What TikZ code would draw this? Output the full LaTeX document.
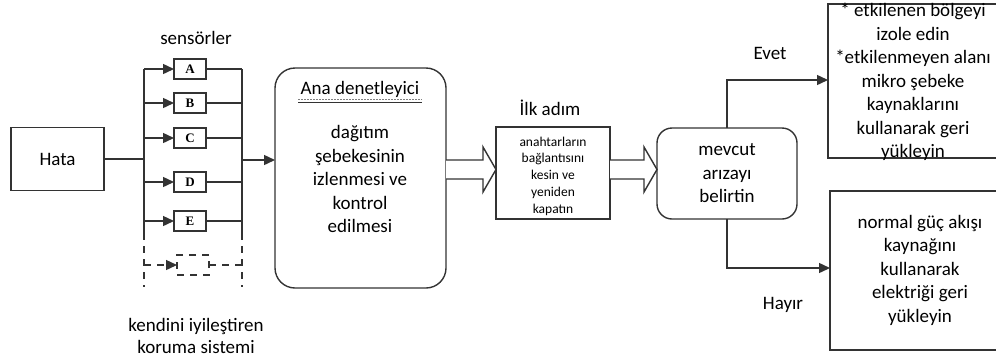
\documentclass[tikz,border=0pt]{standalone}
\usepackage{fontspec}
\setmainfont{Carlito}
\newfontfamily\letterfont{Liberation Serif}
\usetikzlibrary{arrows.meta,calc}
\begin{document}
\begin{tikzpicture}[x=1pt,y=-1pt,
  every node/.style={inner sep=0pt,outer sep=0pt},
  line/.style={draw=black!80,line width=1.4pt},
  tip/.style={-{Triangle[length=11pt,width=10pt]}},
  txt/.style={font=\fontsize{19}{23.5}\selectfont,align=center},
  small/.style={font=\fontsize{13.5}{16.8}\selectfont,align=center},
  sensorbox/.style={line,minimum width=32pt,minimum height=20pt,
    font=\letterfont\bfseries\fontsize{13}{13}\selectfont},
  dashline/.style={dash pattern=on 7pt off 6pt},
  hollow/.style={line,fill=white,line join=miter}
]
\clip (0,0) rectangle (996,360);

% fault input
\node[line,minimum width=93pt,minimum height=63pt,txt] (hata) at (57.5,159) {Hata};

% sensor rack
\coordinate (lbtop) at (144,69);
\coordinate (lbend) at (144,233);
\coordinate (lbdash) at (144,287);
\coordinate (rbtop) at (242,69);
\coordinate (rbend) at (242,233);
\coordinate (rbdash) at (242,287);
\coordinate (rbout) at (242,160);

\draw[line] (lbtop) -- (lbend);
\draw[line,dashline] (lbend) -- (lbdash);
\draw[line] (rbtop) -- (rbend);
\draw[line,dashline] (rbend) -- (rbdash);

\foreach \n/\y in {A/69,B/103,C/138,D/182,E/221}{
  \node[sensorbox] (s\n) at (190,\y) {\n};
  \draw[line,tip] (lbtop |- s\n.west) -- (s\n.west);
  \draw[line] (s\n.east) -- (rbtop |- s\n.east);
}
\node[line,dashline,minimum width=32pt,minimum height=20pt] (sF) at (193,265) {};
\draw[line,dashline,tip] (lbtop |- sF.west) -- (sF.west);
\draw[line,dashline] (sF.east) -- (rbtop |- sF.east);

\draw[line] (hata.east) -- (hata.east -| lbtop);

\node[txt] (sens) at (196,38) {sensörler};
\node[txt,font=\fontsize{19}{22}\selectfont] (heal) at (196,336) {kendini iyileştiren\\koruma sistemi};

% main controller
\node[line,rounded corners=20pt,minimum width=171pt,minimum height=220pt] (ana) at (360.5,178) {};
\node[txt] (anat) at (360,89) {Ana denetleyici};
\draw[gray,line width=1pt,dash pattern=on 2pt off 1pt] (298,99.5) -- (422,99.5);
\draw[line] (298,102.5) -- (422,102.5);
\node[txt] (anab) at (360,179) {dağıtım\\şebekesinin\\izlenmesi ve\\kontrol\\edilmesi};
\draw[line,tip] (rbout) -- (ana.west |- rbout);

% first step
\node[line,minimum width=114pt,minimum height=92pt] (ilk) at (553,173) {};
\node[small] (ilkt) at (553,176) {anahtarların\\bağlantısını\\kesin ve\\yeniden\\kapatın};
\node[txt] (ilkl) at (550,108) {İlk adım};

% fault location
\node[line,rounded corners=15pt,minimum width=140pt,minimum height=91pt,txt] (mev) at (727,173.5) {mevcut\\arızayı\\belirtin};

% hollow arrows
\draw[hollow] (ana.east |- 0,160) -- ($(ilk.west |- 0,160)+(-13,0)$)
  -- ($(ilk.west |- 0,147)+(-13,0)$) -- (ilk.west |- 0,169.5)
  -- ($(ilk.west |- 0,192)+(-13,0)$) -- ($(ilk.west |- 0,179)+(-13,0)$)
  -- (ana.east |- 0,179);
\draw[hollow] (ilk.east |- 0,160) -- ($(mev.west |- 0,160)+(-13,0)$)
  -- ($(mev.west |- 0,147)+(-13,0)$) -- (mev.west |- 0,169.5)
  -- ($(mev.west |- 0,192)+(-13,0)$) -- ($(mev.west |- 0,179)+(-13,0)$)
  -- (ilk.east |- 0,179);

% outcomes
\node[line,minimum width=182pt,minimum height=154pt,anchor=north west] (yes) at (828,4) {};
\node[txt] (yest) at (913,82) {* etkilenen bölgeyi\\izole edin\\*etkilenmeyen alanı\\mikro şebeke\\kaynaklarını\\kullanarak geri\\yükleyin};
\node[line,minimum width=180pt,minimum height=159pt,anchor=north west] (no) at (830,191) {};
\node[txt] (not) at (920,270) {normal güç akışı\\kaynağını\\kullanarak\\elektriği geri\\yükleyin};

\draw[line,tip] (mev.north) -- (mev.north |- 0,80) -- (yes.west |- 0,80);
\draw[line,tip] (mev.south) -- (mev.south |- 0,268) -- (no.west |- 0,268);
\node[txt] (evet) at (770,53) {Evet};
\node[txt] (hayir) at (783,305) {Hayır};
\end{tikzpicture}
\end{document}
